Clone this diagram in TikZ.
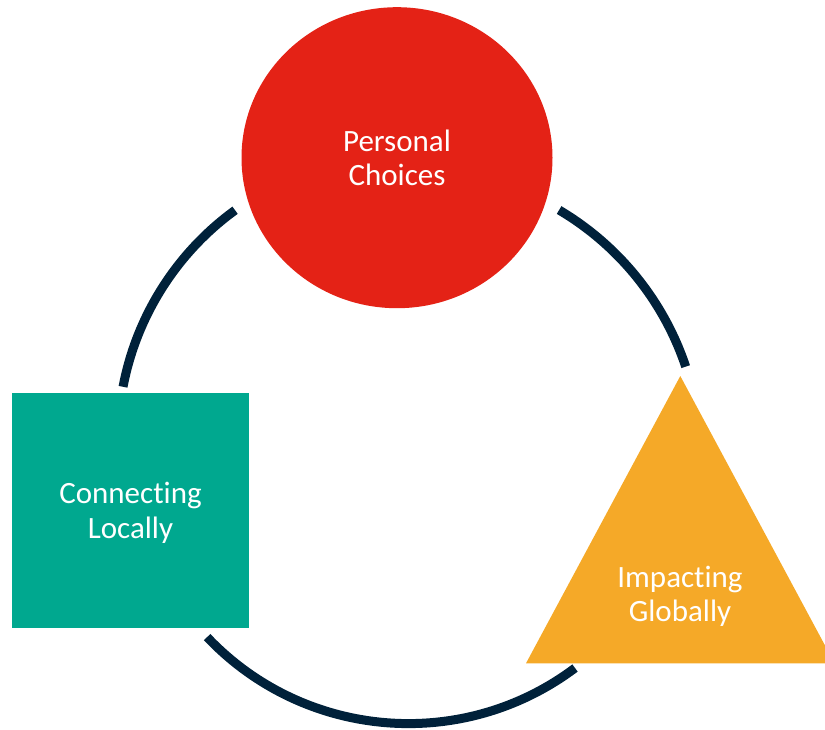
\documentclass[tikz,border=0pt]{standalone}
\usepackage{fontspec}
\setmainfont{Carlito}[RawFeature={-liga,-dlig}]
\usetikzlibrary{shapes.geometric}
\definecolor{redc}{HTML}{E42216}
\definecolor{tealc}{HTML}{00A88F}
\definecolor{orangec}{HTML}{F5A928}
\definecolor{navyc}{HTML}{00213A}
\tikzset{
  lbl/.style={text=white, align=center, font=\fontsize{31}{34.5}\selectfont, inner sep=0pt},
  ring/.style={draw=navyc, line width=9pt, line cap=butt}
}
\begin{document}
\begin{tikzpicture}[x=1pt,y=-1pt]
\useasboundingbox (0,0) rectangle (825,730);
\clip (0,0) rectangle (825,730);
% ring arcs
\coordinate (cl) at (402,440);
\coordinate (cr) at (412.4,458.1);
\coordinate (cb) at (408.4,446.1);
\draw[ring] (cl) ++(-126:284) arc[start angle=-126, end angle=-169.2, radius=284];
\draw[ring] (cr) ++(-59.4:288.2) arc[start angle=-59.4, end angle=-18.5, radius=288.2];
\draw[ring] (cb) ++(136.5:277.5) arc[start angle=136.5, end angle=53.1, radius=277.5];
% shapes
\node[ellipse, fill=redc, minimum width=311pt, minimum height=301pt, inner sep=0pt, lbl] (pc) at (397,157.7) {Personal\\Choices};
\node[rectangle, fill=tealc, minimum width=236.5pt, minimum height=235pt, inner sep=0pt] (cn) at (130.5,510.8) {};
\node[lbl] (cnt) at (130.5,513) {Connecting\\Locally};
\coordinate (ta) at (680.3,376);
\coordinate (tl) at (526,663.3);
\coordinate (tr) at (834.6,663.3);
\fill[orangec] (ta) -- (tl) -- (tr) -- cycle;
\node[lbl] (ig) at (680,596.5) {Impacting\\Globally};
\end{tikzpicture}
\end{document}
